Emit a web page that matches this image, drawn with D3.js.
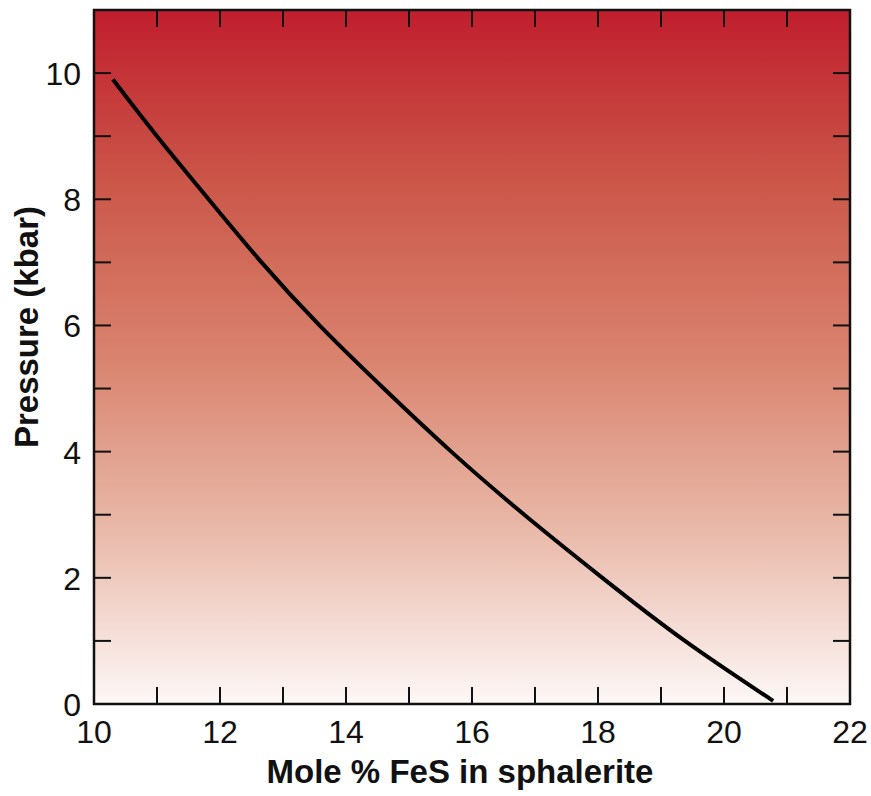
<!DOCTYPE html>
<html>
<head>
<meta charset="utf-8">
<script src="https://cdn.jsdelivr.net/npm/d3@7"></script>
<style>
  body { margin: 0; background: #fff; }
  text { font-family: Arial, "Liberation Sans", sans-serif; }
</style>
</head>
<body>
<div id="chart"></div>
<script>
// curve: mole % FeS vs pressure (kbar)
let moleFeS  = [10.3, 11.0, 11.82, 12.66, 13.58, 14.6, 15.67, 16.83, 18.07, 19.38, 20.78];
let pressure = [9.9, 9.0, 8.0, 7.0, 6.0, 5.0, 4.0, 3.0, 2.0, 1.0, 0.05];

let xTickLabels = [10, 12, 14, 16, 18, 20, 22];
let yTickLabels = [0, 2, 4, 6, 8, 10];

let width = 871, height = 796;
let margin = {top: 10, right: 21, bottom: 92, left: 94};
let innerW = width - margin.left - margin.right;
let innerH = height - margin.top - margin.bottom;

let svg = d3.select("#chart").append("svg")
    .attr("width", width)
    .attr("height", height);

// background gradient, dark red at top fading to white
let defs = svg.append("defs");
let grad = defs.append("linearGradient")
    .attr("id", "bg")
    .attr("x1", 0).attr("y1", 0)
    .attr("x2", 0).attr("y2", 1);
[[0, "#c01e2d"], [0.25, "#cb5749"], [0.5, "#d9836e"], [0.75, "#e9b9a9"], [1, "#fdf8f7"]]
    .forEach(function(s) {
        grad.append("stop").attr("offset", s[0]).attr("stop-color", s[1]);
    });

let g = svg.append("g")
    .attr("transform", `translate(${margin.left},${margin.top})`);

let x = d3.scaleLinear().domain([10, 22]).range([0, innerW]);
let y = d3.scaleLinear().domain([0, 11]).range([innerH, 0]);

g.append("rect")
    .attr("width", innerW)
    .attr("height", innerH)
    .attr("fill", "url(#bg)");

// inward ticks on all four sides
let tickLen = 17;
let xTicks = d3.range(11, 22);
let yTicks = d3.range(1, 11);

g.selectAll(".xtb").data(xTicks).enter().append("line")
    .attr("x1", d => x(d)).attr("x2", d => x(d))
    .attr("y1", innerH).attr("y2", innerH - tickLen)
    .attr("stroke", "#111").attr("stroke-width", 2);
g.selectAll(".xtt").data(xTicks).enter().append("line")
    .attr("x1", d => x(d)).attr("x2", d => x(d))
    .attr("y1", 0).attr("y2", tickLen)
    .attr("stroke", "#111").attr("stroke-width", 2);
g.selectAll(".ytl").data(yTicks).enter().append("line")
    .attr("x1", 0).attr("x2", tickLen)
    .attr("y1", d => y(d)).attr("y2", d => y(d))
    .attr("stroke", "#111").attr("stroke-width", 2);
g.selectAll(".ytr").data(yTicks).enter().append("line")
    .attr("x1", innerW).attr("x2", innerW - tickLen)
    .attr("y1", d => y(d)).attr("y2", d => y(d))
    .attr("stroke", "#111").attr("stroke-width", 2);

// frame
g.append("rect")
    .attr("width", innerW)
    .attr("height", innerH)
    .attr("fill", "none")
    .attr("stroke", "#111")
    .attr("stroke-width", 2.5);

// curve
let pts = moleFeS.map((v, i) => [v, pressure[i]]);
let line = d3.line()
    .x(d => x(d[0]))
    .y(d => y(d[1]))
    .curve(d3.curveNatural);
g.append("path")
    .datum(pts)
    .attr("d", line)
    .attr("fill", "none")
    .attr("stroke", "#000")
    .attr("stroke-width", 4);

// tick labels
g.selectAll(".xl").data(xTickLabels).enter().append("text")
    .attr("x", d => x(d))
    .attr("y", innerH + 39)
    .attr("text-anchor", "middle")
    .attr("font-size", "32px")
    .attr("fill", "#111")
    .text(d => d);

g.selectAll(".yl").data(yTickLabels).enter().append("text")
    .attr("x", -13)
    .attr("y", d => y(d) + 12)
    .attr("text-anchor", "end")
    .attr("font-size", "32px")
    .attr("fill", "#111")
    .text(d => d);

// axis titles
svg.append("text")
    .attr("x", 460)
    .attr("y", 783)
    .attr("text-anchor", "middle")
    .attr("font-size", "33px")
    .attr("font-weight", "bold")
    .attr("fill", "#111")
    .text("Mole % FeS in sphalerite");

svg.append("text")
    .attr("transform", "translate(38,327) rotate(-90)")
    .attr("text-anchor", "middle")
    .attr("font-size", "33px")
    .attr("font-weight", "bold")
    .attr("fill", "#111")
    .text("Pressure (kbar)");
</script>
</body>
</html>
